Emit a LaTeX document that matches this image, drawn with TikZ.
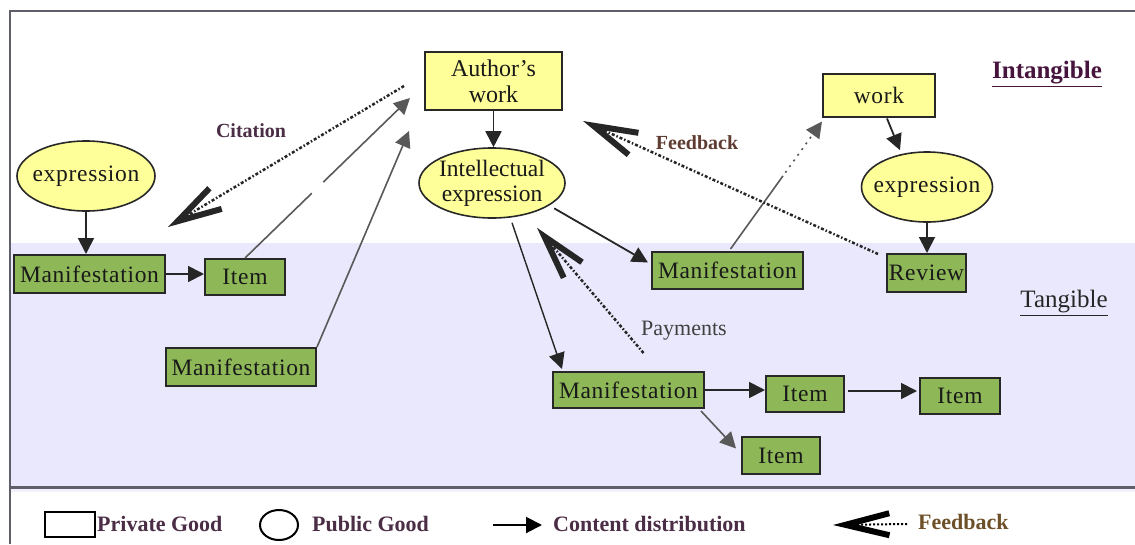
\documentclass[tikz,border=0pt]{standalone}
\usepackage{fontspec}
\setmainfont{Liberation Serif}
\usetikzlibrary{arrows.meta,shapes.geometric,calc}
\definecolor{ylw}{RGB}{255,255,153}
\definecolor{grn}{RGB}{142,184,88}
\definecolor{lav}{RGB}{234,232,252}
\definecolor{bord}{RGB}{40,40,40}
\definecolor{lbl}{RGB}{75,45,70}
\definecolor{frame}{RGB}{95,95,105}
\tikzset{
  base/.style={draw=bord, line width=2pt, inner sep=0pt, align=center, text=black!90,
    font=\fontsize{23.5}{25}\selectfont\addfontfeature{LetterSpace=3}},
  privbox/.style={base, rectangle, fill=ylw},
  manbox/.style={base, rectangle, fill=grn},
  pubell/.style={base, ellipse, fill=ylw, line width=1.6pt, inner xsep=-12pt, inner ysep=-2pt},
  flow/.style={-{Triangle[length=16pt,width=16pt]}, line width=1.8pt, draw=black!85},
  thinflow/.style={-{Triangle[length=16pt,width=16pt]}, line width=1.6pt, draw=black!65},
  fback/.style={-{Straight Barb[length=44pt,width=24pt,line width=6pt]},
    line width=2.5pt, draw=black!85, dash pattern=on 3pt off 2pt on 1.5pt off 2pt},
  lab/.style={font=\fontsize{20}{22}\selectfont\bfseries, text=lbl, inner sep=0pt},
  leg/.style={font=\fontsize{22}{24}\selectfont\bfseries, text=lbl, inner sep=0pt, anchor=west},
}
\begin{document}
\begin{tikzpicture}[x=1pt,y=-1pt]
\useasboundingbox (0,0) rectangle (1135,544);
\fill[white] (0,0) rectangle (1135,544);
% regions
\fill[lav] (11,243) rectangle (1135,487);
\draw[frame, line width=2.5pt] (10,544) -- (10,11) -- (1135,11);
\draw[frame, line width=3pt] (10,487) -- (1135,487);
\fill[lav!60] (11,489) rectangle (1135,492);
% labels of regions
\node[font=\fontsize{25}{27}\selectfont\bfseries, text={rgb,255:red,70;green,20;blue,60}, inner sep=0pt] (intang) at (1047,74) {\underline{Intangible}};
\node[font=\fontsize{25}{27}\selectfont, text=black!85, inner sep=0pt] (tang) at (1064,303) {\underline{Tangible}};
% nodes
\node[privbox, minimum width=137pt, minimum height=58pt, font=\fontsize{24}{26}\selectfont] (auth) at (493.5,81) {Author's\\work};
\node[privbox, minimum width=112pt, minimum height=43pt] (work) at (879,95) {work};
\node[pubell, minimum width=138pt, minimum height=70pt] (expL) at (86,176) {expression};
\node[pubell, minimum width=146pt, minimum height=70pt, font=\fontsize{23.5}{25}\selectfont] (intexp) at (492,183) {Intellectual\\expression};
\node[pubell, minimum width=131pt, minimum height=70pt] (expR) at (927,187) {expression};
\node[manbox, minimum width=151pt, minimum height=38pt] (manL) at (89.5,274) {Manifestation};
\node[manbox, minimum width=80pt, minimum height=36pt] (itemL) at (245,277) {Item};
\node[manbox, minimum width=150pt, minimum height=38pt] (manLL) at (241,367) {Manifestation};
\node[manbox, minimum width=151pt, minimum height=37pt] (manM) at (727.5,270.5) {Manifestation};
\node[manbox, minimum width=79pt, minimum height=38pt] (review) at (926.5,273) {Review};
\node[manbox, minimum width=151pt, minimum height=36pt] (manB) at (628.5,390) {Manifestation};
\node[manbox, minimum width=78pt, minimum height=36pt] (item1) at (805,394) {Item};
\node[manbox, minimum width=80pt, minimum height=36pt] (item2) at (960,396) {Item};
\node[manbox, minimum width=78pt, minimum height=37pt] (item3) at (781,455.5) {Item};
% edge labels
\node[lab] (cit) at (251,131) {Citation};
\node[lab, text={rgb,255:red,95;green,60;blue,50}] (fbl) at (697,143) {Feedback};
\node[font=\fontsize{22}{24}\selectfont, text=black!75, inner sep=0pt] (pay) at (684,331) {Payments};
% content distribution
\draw[flow] (auth.south) -- (auth.south |- intexp.north);
\draw[flow] ($(work.south)+(8,1)$) -- ($(expR.north)+(-27,-1)$);
\draw[flow] (expR.south) -- (expR.south |- review.north);
\draw[flow] (expL.south) -- (expL.south |- manL.north);
\draw[flow] (manL.east) -- (manL.east -| itemL.west);
\draw[thinflow, dash pattern=on 93pt off 16pt on 400pt off 0pt] (itemL.north) -- ($(auth.west)+(-14,17)$);
\draw[thinflow] (manLL.north east) -- ($(auth.south west)+(-15,20)$);
\draw[flow] ($(intexp.south east)+(10,0)$) -- ($(manM.west)+(-3,-8)$);
\draw[thinflow, dash pattern=on 90pt off 4pt on 2pt off 5pt on 2pt off 5pt on 2pt off 5pt on 2pt off 5pt on 2pt off 5pt on 2pt off 5pt on 2pt off 5pt on 2pt off 5pt on 2pt off 5pt on 40pt off 0pt] ($(manM.north)+(3,-2)$) -- ($(work.south west)+(0,4)$);
\draw[flow, line width=1.4pt] ($(intexp.south)+(20,4)$) -- ($(manB.north west)+(10,-2)$);
\draw[flow] (manB.east) -- (manB.east -| item1.west);
\draw[flow] ($(item1.east)+(3,-3)$) -- ($(item2.west)+(-2,-5)$);
\draw[thinflow] ($(manB.south east)+(-4,2)$) -- ($(item3.west)+(-5,-7)$);
% feedback
\draw[fback] ($(auth.west)+(-20,5)$) -- ($(manL.north east)+(2,-27)$);
\draw[fback] ($(review.north west)+(-8,1)$) -- ($(auth.south east)+(20,10)$);
\draw[fback] ($(manB.north)+(15,-18)$) -- ($(intexp.south)+(45,9)$);
% legend
\node[draw=black, line width=2pt, minimum width=50pt, minimum height=25pt, inner sep=0pt] (lgbox) at (70,524.5) {};
\node[leg] (lgbt) at (97,524) {Private Good};
\node[draw=black, line width=2pt, ellipse, minimum width=38pt, minimum height=30pt, inner sep=0pt] (lgell) at (279,525) {};
\node[leg] (lget) at (312,524) {Public Good};
\coordinate (la1) at (493,525);
\coordinate (la2) at (542,525);
\draw[flow, line width=2pt, draw=black] (la1) -- (la2);
\node[leg] (lgat) at (553,524) {Content distribution};
\coordinate (lf1) at (907,524);
\coordinate (lf2) at (833,525);
\draw[-{Straight Barb[length=44pt,width=22pt,line width=6pt]}, line width=2pt, dash pattern=on 2pt off 2pt] (lf1) -- (lf2);
\node[leg, text={rgb,255:red,110;green,80;blue,40}] (lgft) at (918,522) {Feedback};
\end{tikzpicture}
\end{document}
